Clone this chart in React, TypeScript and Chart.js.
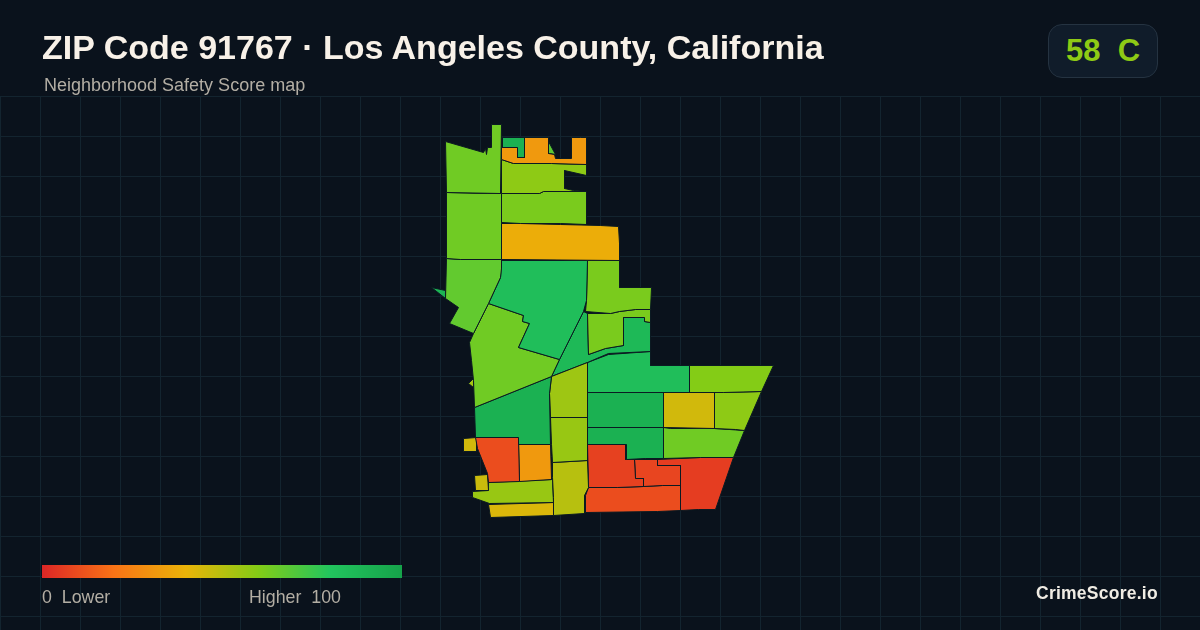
import React, { useEffect, useRef } from "react";
import { Chart, registerables } from "chart.js";

Chart.register(...registerables);

type Pt = [number, number];

// Neighborhood outlines, in map units
const northStrip: Pt[] = [[502,137],[524,137],[524,157],[517,157],[517,147],[502,147]];
const northOrange: Pt[] = [[501,147],[517,147],[517,157],[524,157],[524,137],[548,137],[548,153],[554,154],[555,158],[571,158],[571,137],[580,137],[586,137],[586,164],[551,163],[513,163],[501,159]];
const northSliver: Pt[] = [[548,141],[555,154],[548,153]];
const northBand: Pt[] = [[501,159],[513,163],[551,163],[586,164],[586,175],[564,170],[564,188],[573,190],[586,191],[543,191],[539,193],[501,193]];
const midBand: Pt[] = [[501,193],[539,193],[543,191],[586,191],[586,224],[560,223],[520,223],[501,222]];
const orangeBand: Pt[] = [[501,223],[520,223],[560,224],[600,225],[618,226],[619,243],[619,260],[501,259]];
const westTop: Pt[] = [[445,141],[483,152],[485,148],[486,154],[487,147],[491,147],[491,124],[501,124],[500,193],[446,192]];
const westMid: Pt[] = [[446,192],[487,193],[501,193],[501,259],[460,259],[446,258]];
const westLow: Pt[] = [[446,258],[460,259],[501,259],[501,268],[500,277],[488,303],[473,333],[449,323],[458,307],[445,298]];
const westSliver: Pt[] = [[431,287],[445,290],[445,298]];
const centerBig: Pt[] = [[501,260],[587,260],[586,300],[583,311],[559,359],[518,347],[529,323],[522,321],[523,315],[488,303],[500,277]];
const westCenter: Pt[] = [[488,303],[523,315],[522,321],[529,323],[518,347],[559,359],[551,376],[474,407],[473,380],[471,360],[469,342],[473,333]];
const westTiny: Pt[] = [[468,383],[473,378],[473,387]];
const westDark: Pt[] = [[474,407],[551,376],[549,393],[550,444],[518,444],[518,437],[475,437]];
const stripA: Pt[] = [[551,376],[587,362],[587,417],[550,417],[549,393]];
const stripB: Pt[] = [[550,417],[587,417],[587,460],[552,462],[551,444]];
const stripC: Pt[] = [[552,462],[587,460],[588,487],[584,495],[584,513],[553,515],[553,497],[552,477]];
const southRed: Pt[] = [[475,437],[518,437],[519,481],[488,482],[487,473],[477,448]];
const southOrange: Pt[] = [[518,444],[550,444],[551,479],[519,481]];
const islandA: Pt[] = [[463,438],[476,437],[476,451],[463,451]];
const islandB: Pt[] = [[474,475],[487,474],[488,490],[475,490]];
const southBand: Pt[] = [[488,482],[552,479],[553,502],[489,503],[472,497],[472,491],[488,490]];
const southYellow: Pt[] = [[488,504],[553,502],[553,515],[490,517]];
const eastUpper: Pt[] = [[587,260],[619,260],[619,287],[651,287],[650,309],[635,309],[619,311],[610,313],[585,311],[586,300]];
const eastInner: Pt[] = [[587,313],[610,313],[619,311],[635,309],[650,309],[650,322],[644,321],[644,317],[623,317],[623,345],[605,348],[588,354]];
const corridor: Pt[] = [[583,311],[587,313],[588,354],[605,348],[623,345],[623,317],[644,317],[644,321],[650,322],[650,351],[608,353],[587,362],[551,376],[559,359]];
const eastGreen: Pt[] = [[587,362],[608,354],[650,351],[650,365],[689,365],[689,392],[587,392]];
const eastWedge: Pt[] = [[689,365],[773,365],[761,391],[723,392],[689,392]];
const blockDark: Pt[] = [[587,392],[663,392],[663,427],[587,427]];
const blockYellow: Pt[] = [[663,392],[714,392],[714,428],[663,427]];
const blockLime: Pt[] = [[714,392],[723,392],[761,391],[744,430],[735,429],[714,428]];
const blockGreen: Pt[] = [[663,427],[670,428],[714,428],[744,430],[733,457],[700,457],[663,458]];
const blockDarkLow: Pt[] = [[587,427],[663,427],[663,458],[645,458],[626,459],[626,444],[587,444]];
const redWest: Pt[] = [[587,444],[625,444],[625,459],[634,459],[635,478],[643,478],[643,486],[617,487],[588,487]];
const redMid: Pt[] = [[634,459],[657,459],[657,465],[680,465],[680,485],[662,485],[643,486],[643,478],[635,478]];
const redEast: Pt[] = [[657,459],[700,457],[733,457],[715,509],[698,509],[680,510],[680,485],[680,465],[657,465]];
const redSouth: Pt[] = [[588,487],[617,487],[643,486],[662,485],[680,485],[680,510],[657,511],[585,512],[585,495]];

const tractOutlines: Pt[][] = [
  northStrip, northOrange, northSliver, northBand, midBand, orangeBand, westTop, westMid, westLow,
  westSliver, centerBig, westCenter, westTiny, westDark, stripA, stripB, stripC, southRed, southOrange,
  islandA, islandB, southBand, southYellow, eastUpper, eastInner, corridor, eastGreen, eastWedge,
  blockDark, blockYellow, blockLime, blockGreen, blockDarkLow, redWest, redMid, redEast, redSouth,
];

// Safety score of each neighborhood, same order as tractOutlines
const tractScores: number[] = [
  92, 32, 68, 58, 62, 38, 64, 64, 67,
  90, 84, 64, 54, 92, 55, 56, 50, 10, 32,
  45, 46, 56, 43, 62, 62, 87, 84, 60,
  92, 45, 58, 64, 92, 7, 8, 6, 10,
];

const rampStops: number[] = [0, 20, 40, 60, 80, 100];
const rampColors: string[] = ["#dc2626", "#f97316", "#eab308", "#84cc16", "#22c55e", "#16a34a"];

const gridXTicks: number[] = [0,40,80,120,160,200,240,280,320,360,400,440,480,520,560,600,640,680,720,760,800,840,880,920,960,1000,1040,1080,1120,1160];
const gridYTicks: number[] = [96,136,176,216,256,296,336,376,416,456,496,536,576,616];

const titleText = "ZIP Code 91767 · Los Angeles County, California";
const subtitleText = "Neighborhood Safety Score map";
const gradeText = "58  C";
const lowLabel = "0  Lower";
const highLabel = "Higher  100";
const brandText = "CrimeScore.io";

const BG = "#0a121c";
const GRID = "#13242f";
const EDGE = "#0b1a22";
const FONT = '"Liberation Sans", Arial, sans-serif';

function hexToRgb(h: string): number[] {
  return [1, 3, 5].map((i) => parseInt(h.slice(i, i + 2), 16));
}

function scoreColor(score: number): string {
  let i = 0;
  while (i < rampStops.length - 2 && score > rampStops[i + 1]) i++;
  const t = (score - rampStops[i]) / (rampStops[i + 1] - rampStops[i]);
  const a = hexToRgb(rampColors[i]);
  const b = hexToRgb(rampColors[i + 1]);
  const c = a.map((v, k) => Math.round(v + (b[k] - v) * t));
  return `rgb(${c[0]},${c[1]},${c[2]})`;
}

const rampCss = `linear-gradient(90deg, ${rampColors
  .map((c, i) => `${c} ${rampStops[i]}%`)
  .join(", ")})`;

const abs = (left: number, top: number, extra: React.CSSProperties = {}): React.CSSProperties => ({
  position: "absolute",
  left,
  top,
  whiteSpace: "pre",
  fontFamily: FONT,
  ...extra,
});

export default function App() {
  const ref = useRef<HTMLCanvasElement | null>(null);

  useEffect(() => {
    document.body.style.margin = "0";
    document.body.style.background = BG;
    const chart = new Chart(ref.current as HTMLCanvasElement, {
      type: "scatter",
      data: {
        datasets: tractOutlines.map((outline, i) => ({
          label: `Tract ${i + 1}`,
          data: [...outline, outline[0]].map(([x, y]) => ({ x, y })),
          showLine: true,
          fill: "shape",
          tension: 0,
          pointRadius: 0,
          pointHoverRadius: 0,
          borderWidth: 1,
          borderColor: EDGE,
          backgroundColor: scoreColor(tractScores[i]),
        })),
      },
      options: {
        responsive: false,
        animation: false,
        events: [],
        layout: { padding: { top: 96, left: 0, right: 0, bottom: 0 } },
        plugins: { legend: { display: false }, tooltip: { enabled: false }, title: { display: false } },
        scales: {
          x: {
            type: "linear",
            min: -0.5,
            max: 1199.5,
            afterBuildTicks: (axis: any) => {
              axis.ticks = gridXTicks.map((value) => ({ value }));
            },
            ticks: { display: false },
            border: { display: false },
            grid: { color: GRID, lineWidth: 1, drawTicks: false },
          },
          y: {
            type: "linear",
            min: 95.5,
            max: 629.5,
            reverse: true,
            afterBuildTicks: (axis: any) => {
              axis.ticks = gridYTicks.map((value) => ({ value }));
            },
            ticks: { display: false },
            border: { display: false },
            grid: { color: GRID, lineWidth: 1, drawTicks: false },
          },
        },
      } as any,
    });
    return () => chart.destroy();
  }, []);

  return (
    <div style={{ position: "fixed", left: 0, top: 0, width: 1200, height: 630, background: BG, overflow: "hidden" }}>
      <canvas ref={ref} width={1200} height={630} style={{ position: "absolute", left: 0, top: 0, display: "block" }} />
      <div style={abs(42, 27, { fontSize: 34, lineHeight: "40px", fontWeight: 700, color: "#f8f1e8" })}>{titleText}</div>
      <div style={abs(44, 74, { fontSize: 18, lineHeight: "22px", color: "#b3aea4" })}>{subtitleText}</div>
      <div
        style={abs(1048, 24, {
          width: 110,
          height: 54,
          boxSizing: "border-box",
          borderRadius: 14,
          background: "#101c2a",
          border: "1px solid #253341",
          textAlign: "center",
          lineHeight: "52px",
          fontSize: 31,
          fontWeight: 700,
          color: scoreColor(58),
        })}
      >
        {gradeText}
      </div>
      <div style={abs(42, 565, { width: 360, height: 13, background: rampCss })} />
      <div style={abs(42, 587, { fontSize: 17.8, lineHeight: "20px", color: "#b3aea4" })}>{lowLabel}</div>
      <div style={abs(249, 587, { fontSize: 17.8, lineHeight: "20px", color: "#b3aea4" })}>{highLabel}</div>
      <div style={abs(1036, 583, { fontSize: 17.5, lineHeight: "20px", letterSpacing: 0.25, fontWeight: 700, color: "#f0ece4" })}>{brandText}</div>
    </div>
  );
}
